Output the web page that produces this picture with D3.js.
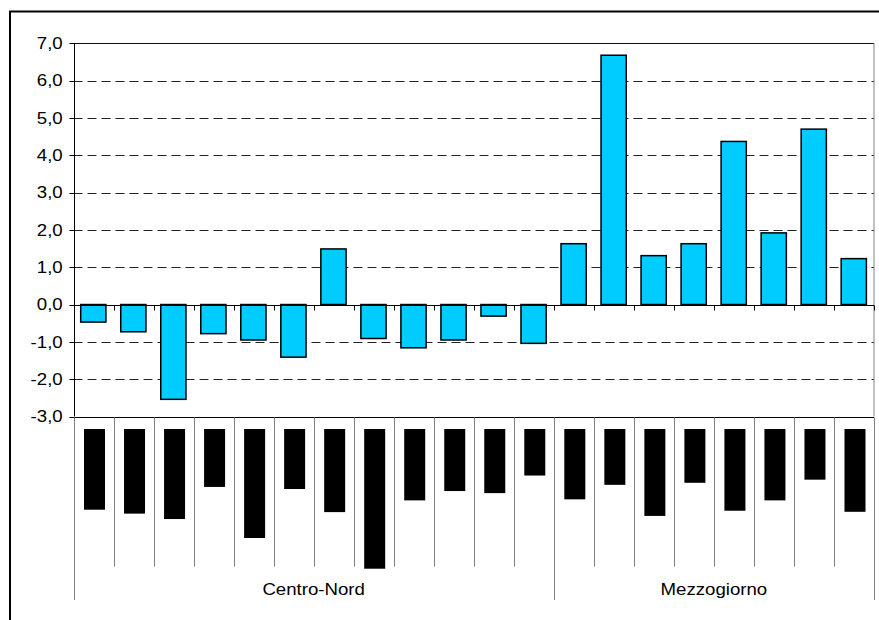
<!DOCTYPE html>
<html><head><meta charset="utf-8">
<script src="https://cdn.jsdelivr.net/npm/d3@7"></script>
<style>html,body{margin:0;padding:0;background:#fff;overflow:hidden}</style>
</head><body>
<svg id="c" width="879" height="620"></svg>
<script>
// ---- data ----
const regions = ["Piemonte","V. d'Aosta","Lombardia","Liguria","Trentino A.A.","Veneto",
  "Friuli V.G.","Emilia-Romagna","Toscana","Umbria","Marche","Lazio",
  "Abruzzo","Molise","Campania","Puglia","Basilicata","Calabria","Sicilia","Sardegna"];
const values = [-0.47,-0.73,-2.54,-0.78,-0.95,-1.41,1.49,-0.91,-1.16,-0.95,-0.31,-1.04,
  1.63,6.68,1.31,1.63,4.37,1.92,4.70,1.23];
const groups = ["Centro-Nord","Mezzogiorno"];
const groupSizes = [12, 8];
const yTicks = [7,6,5,4,3,2,1,0,-1,-2,-3];

// ---- layout ----
const L = 73.5, R = 874, T = 43.3, B = 416.5;
const labelTop = 429, innerSepBottom = 566.7, outerSepBottom = 600, groupBaseline = 595;
const FONT = "'Liberation Sans', Arial, sans-serif";
const SX = 1.165; // horizontal stretch of the reference's text

const svg = d3.select("#c");
const fmt = d3.formatLocale({decimal:",",thousands:".",grouping:[3],currency:["","€"],minus:"-"}).format(".1f");

const x = d3.scaleBand().domain(regions).range([L, R]).padding(0);
const y = d3.scaleLinear().domain([-3, 7]).range([B, T]);
const bw = x.bandwidth();

// outer frame
svg.append("rect").attr("x",10).attr("y",11.5).attr("width",900).attr("height",700)
  .attr("fill","none").attr("stroke","#000").attr("stroke-width",2);

// gridlines
const gridVals = yTicks.filter(t => t !== 0 && t !== 7 && t !== -3);
svg.append("g").selectAll("line").data(gridVals).join("line")
  .attr("x1",L).attr("x2",R).attr("y1",d=>Math.round(y(d))+0.5).attr("y2",d=>Math.round(y(d))+0.5)
  .attr("stroke","#222").attr("stroke-width",1).attr("stroke-dasharray","9,5");

// plot top and right border
svg.append("line").attr("x1",L).attr("x2",R).attr("y1",Math.round(y(7))+0.5).attr("y2",Math.round(y(7))+0.5)
  .attr("stroke","#111").attr("stroke-width",1);
svg.append("line").attr("x1",R).attr("x2",R).attr("y1",y(7)).attr("y2",y(-3))
  .attr("stroke","#808080").attr("stroke-width",1);

// bars
svg.append("g").selectAll("rect").data(regions).join("rect")
  .attr("x", (d)=> x(d) + bw*0.18)
  .attr("width", bw*0.63)
  .attr("y", (d,i)=> y(Math.max(0, values[i])))
  .attr("height", (d,i)=> Math.abs(y(values[i]) - y(0)))
  .attr("fill","#00CCFF").attr("stroke","#000").attr("stroke-width",1.5);

// zero axis with ticks
const y0 = Math.round(y(0))+0.5;
svg.append("line").attr("x1",L).attr("x2",R).attr("y1",y0).attr("y2",y0).attr("stroke","#000").attr("stroke-width",1);
const bounds = d3.range(regions.length+1).map(i => L + i*x.step());
svg.append("g").selectAll("line").data(bounds).join("line")
  .attr("x1",d=>Math.round(d)+0.5).attr("x2",d=>Math.round(d)+0.5).attr("y1",y0).attr("y2",y0+5)
  .attr("stroke","#000").attr("stroke-width",1);

// left axis
const yAxisX = Math.round(L)+0.5;
svg.append("line").attr("x1",yAxisX).attr("x2",yAxisX).attr("y1",y(7)).attr("y2",y(-3)).attr("stroke","#000");
const yt = svg.append("g").selectAll("g").data(yTicks).join("g");
yt.append("line").attr("x1",yAxisX-5).attr("x2",yAxisX).attr("y1",d=>Math.round(y(d))+0.5).attr("y2",d=>Math.round(y(d))+0.5).attr("stroke","#000");
yt.append("text").attr("transform",d=>`translate(62.7,${y(d)}) scale(${SX},1)`)
  .attr("text-anchor","end").attr("dy","0.36em")
  .attr("font-family",FONT).attr("font-size",16).attr("fill","#000").text(d=>fmt(d));

// bottom axis at -3
const yb = Math.round(y(-3))+0.5;
svg.append("line").attr("x1",L).attr("x2",R).attr("y1",yb).attr("y2",yb).attr("stroke","#000");

// category separators
const groupEdges = [0]; groupSizes.forEach(s => groupEdges.push(groupEdges[groupEdges.length-1]+s));
svg.append("g").selectAll("line").data(bounds).join("line")
  .attr("x1",d=>Math.round(d)+0.5).attr("x2",d=>Math.round(d)+0.5)
  .attr("y1",yb).attr("y2",(d,i)=> groupEdges.includes(i) ? outerSepBottom : innerSepBottom)
  .attr("stroke","#808080").attr("stroke-width",1);

// rotated category labels (rendered black on black as in the reference)
const lab = svg.append("g").selectAll("g").data(regions).join("g")
  .attr("transform", d => `translate(${x(d)+bw/2+1},${labelTop}) rotate(90)`);
lab.append("text").attr("transform",`translate(1,0) scale(${SX},1)`)
  .attr("dominant-baseline","central").attr("font-family",FONT).attr("font-size",16)
  .attr("fill","#000").text(d=>d);
lab.each(function(){
  const g = d3.select(this);
  const len = g.select("text").node().getComputedTextLength()*SX + 2;
  g.insert("rect","text").attr("x",0).attr("y",-10.5).attr("width",len).attr("height",21).attr("fill","#000");
});

// group labels
svg.append("g").selectAll("text").data(groups).join("text")
  .attr("transform",(d,i)=>`translate(${(bounds[groupEdges[i]]+bounds[groupEdges[i+1]])/2},${groupBaseline}) scale(${SX},1)`)
  .attr("text-anchor","middle").attr("font-family",FONT).attr("font-size",16).attr("fill","#000").text(d=>d);
</script>
</body></html>
